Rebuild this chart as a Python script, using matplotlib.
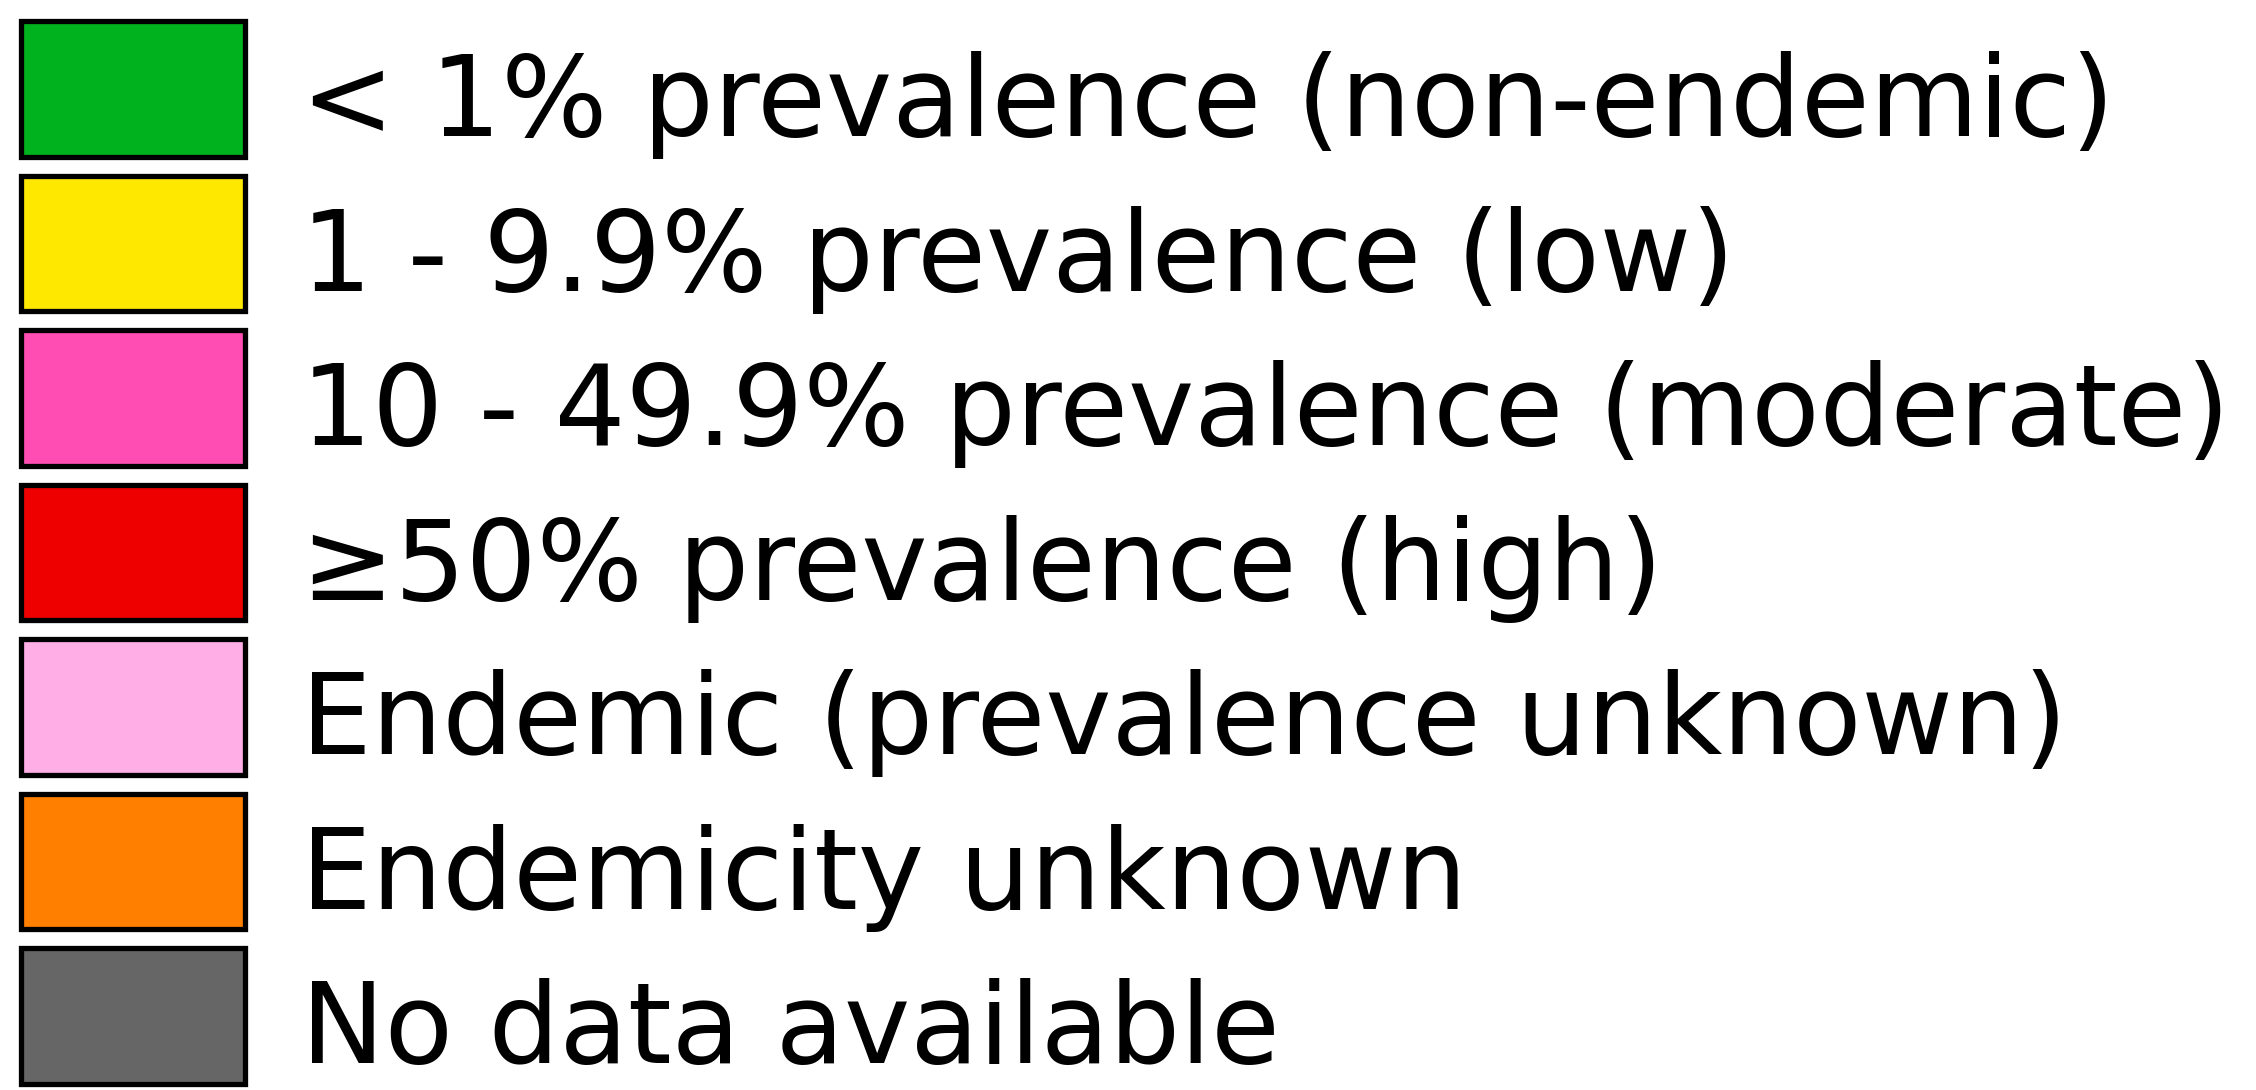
import matplotlib
matplotlib.use("Agg")
import matplotlib.pyplot as plt

# legend entries, top to bottom
labels = [
    "< 1% prevalence (non-endemic)",
    "1 - 9.9% prevalence (low)",
    "10 - 49.9% prevalence (moderate)",
    "\u226550% prevalence (high)",
    "Endemic (prevalence unknown)",
    "Endemicity unknown",
    "No data available",
]
colors = ["#00b31e", "#ffe800", "#ff4db3", "#ee0000", "#ffaee6", "#ff8000", "#666666"]

fig = plt.figure(figsize=(22.56, 10.90), dpi=100)
ax = fig.add_axes([0, 0, 1, 1])

rows = list(range(len(labels)))
ax.barh(rows, 224, left=20.5, height=0.875, color=colors,
        edgecolor="black", linewidth=3.8)

for i, lab in enumerate(labels):
    ax.text(301, i + 0.307, lab, fontsize=80.5, va="baseline", ha="left",
            color="black", family="DejaVu Sans")

ax.set_xlim(0, 2256)
ax.set_ylim(6.479, -0.576)
ax.axis("off")

fig.savefig("out.png", dpi=100)
